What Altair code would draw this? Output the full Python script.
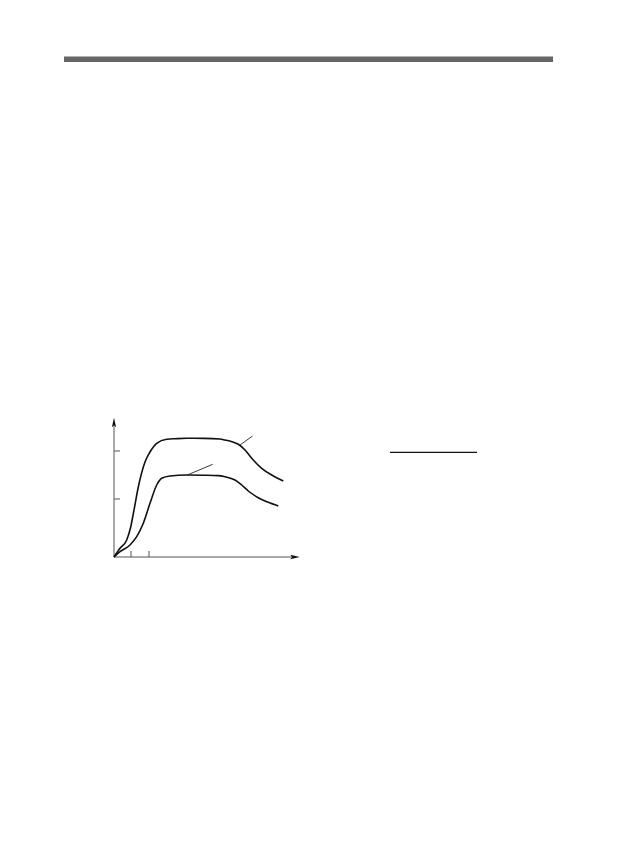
import altair as alt
import pandas as pd

# Upper curve (units = px from origin)
upper_x = [0, 6, 12.7, 16.7, 20, 24.3, 31, 36, 42.7, 52.7, 62, 72.7, 90, 106, 111, 118, 124.3, 131, 137.7, 147.7, 157.7, 169.3]
upper_y = [0, 8.7, 17, 30, 47, 70, 95, 105, 113.7, 117.7, 118.3, 118.7, 118.6, 118, 117, 115.3, 112.7, 107, 98.7, 88.7, 82, 76]

# Lower curve
lower_x = [0, 6, 16, 22.7, 29.3, 36, 42.7, 47.7, 56, 72.7, 90, 104, 111, 121, 127.7, 134.3, 144.3, 154.3, 164.3]
lower_y = [0, 5.3, 12, 20.3, 33.7, 53.7, 72, 78.7, 81, 82, 81.8, 81.4, 80.3, 77, 72, 66, 59.3, 54.7, 51]

# Leader lines (label pointers)
leader_x = [126, 73.3]
leader_y = [112, 82]
leader_x2 = [138.5, 98.7]
leader_y2 = [121, 92.7]

# Axis ticks
ytick_vals = [58, 106]
xtick_vals = [17, 35]

X_MAX, Y_MAX = 186, 140

curves = pd.DataFrame(
    [{"s": "upper", "i": i, "x": x, "y": y} for i, (x, y) in enumerate(zip(upper_x, upper_y))]
    + [{"s": "lower", "i": i, "x": x, "y": y} for i, (x, y) in enumerate(zip(lower_x, lower_y))]
)
leaders = pd.DataFrame({"x": leader_x, "y": leader_y, "x2": leader_x2, "y2": leader_y2})
yt = pd.DataFrame({"y": ytick_vals, "x": [0] * len(ytick_vals), "x2": [6] * len(ytick_vals)})
xt = pd.DataFrame({"x": xtick_vals, "y": [0] * len(xtick_vals), "y2": [6] * len(xtick_vals)})
axes_df = pd.DataFrame({"x": [0, 0], "y": [0, 0], "x2": [182, 0], "y2": [0, 134]})
arrows = pd.DataFrame({"x": [0, 181], "y": [134.5, 0], "shape": ["up", "right"]})

xs = alt.Scale(domain=[0, X_MAX], nice=False, zero=False)
ys = alt.Scale(domain=[0, Y_MAX], nice=False, zero=False)
X = lambda f="x": alt.X(f"{f}:Q", scale=xs, axis=None)
Y = lambda f="y": alt.Y(f"{f}:Q", scale=ys, axis=None)

base_axes = alt.Chart(axes_df).mark_rule(color="#555555", strokeWidth=1).encode(
    x=X(), y=Y(), x2="x2:Q", y2="y2:Q")
ytick = alt.Chart(yt).mark_rule(color="#555555", strokeWidth=1).encode(
    x=X(), x2="x2:Q", y=Y())
xtick = alt.Chart(xt).mark_rule(color="#555555", strokeWidth=1).encode(
    x=X(), y=Y(), y2="y2:Q")
arrow_up = alt.Chart(arrows[arrows["shape"] == "up"]).mark_point(
    shape="M0,-1L0.45,1L0,0.6L-0.45,1Z", filled=True, color="#111111", size=90, opacity=1
).encode(x=X(), y=Y())
arrow_right = alt.Chart(arrows[arrows["shape"] == "right"]).mark_point(
    shape="M1,0L-1,0.45L-0.6,0L-1,-0.45Z", filled=True, color="#111111", size=90, opacity=1
).encode(x=X(), y=Y())
lines = alt.Chart(curves).mark_line(color="#111111", strokeWidth=1.6, interpolate="monotone").encode(
    x=X(), y=Y(), detail="s:N", order="i:Q")
lead = alt.Chart(leaders).mark_rule(color="#222222", strokeWidth=0.9).encode(
    x=X(), y=Y(), x2="x2:Q", y2="y2:Q")

# Page decorations: header band and a short rule on the right
band = alt.Chart(pd.DataFrame({"k": [0]})).mark_rule(color="#666666", strokeWidth=5.5).encode(
    x=alt.value(-50), x2=alt.value(439), y=alt.value(-357.7))
side_rule = alt.Chart(pd.DataFrame({"k": [0]})).mark_rule(color="#111111", strokeWidth=1.2).encode(
    x=alt.value(276), x2=alt.value(363), y=alt.value(35.3))

chart = alt.layer(band, side_rule, base_axes, ytick, xtick, lines, lead, arrow_up, arrow_right).properties(
    width=X_MAX, height=Y_MAX,
    autosize=alt.AutoSizeParams(type="none"),
    padding={"left": 106, "top": 409, "right": 309, "bottom": 285},
    background="white",
).configure_view(stroke=None)

chart.save("out.html", embed_options={"renderer": "svg", "actions": False})
